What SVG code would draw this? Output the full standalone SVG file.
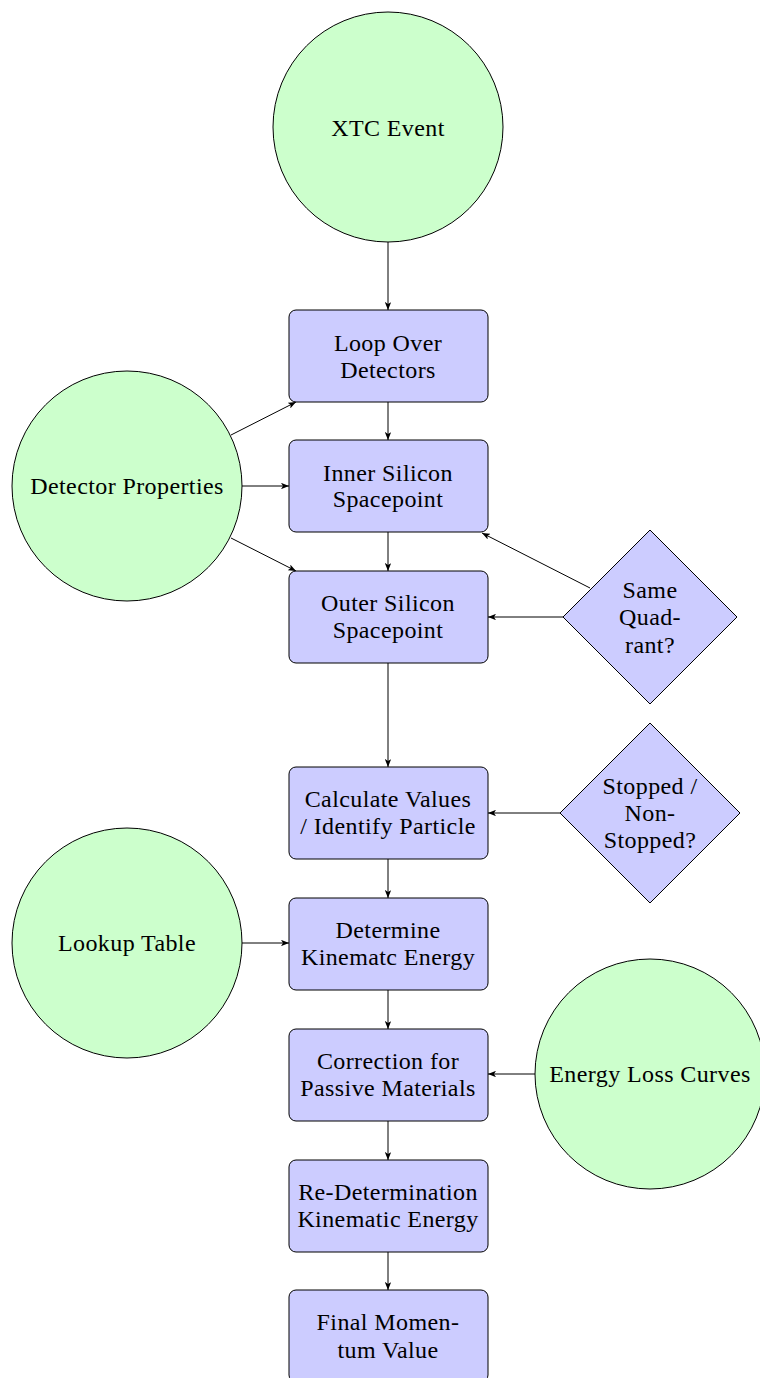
<svg xmlns="http://www.w3.org/2000/svg" width="760" height="1378" viewBox="0 0 760 1378">
<defs>
<style>
.c{fill:#ccffcc;stroke:#000;stroke-width:1}
.b{fill:#ccccff;stroke:#000;stroke-width:1}
.e{stroke:#000;stroke-width:1;fill:none;marker-end:url(#a)}
</style>
<marker id="a" viewBox="0 0 10 8" refX="10" refY="4" markerWidth="8" markerHeight="6.4" markerUnits="userSpaceOnUse" orient="auto">
<path d="M0,0 L10,4 L0,8 L2.5,4 Z" fill="#000"/>
</marker>
</defs>
<rect width="760" height="1378" fill="#fff"/>
<g id="connectors">
<line class="e" x1="388" y1="242" x2="388" y2="310"/>
<line class="e" x1="388" y1="402" x2="388" y2="440"/>
<line class="e" x1="388" y1="532" x2="388" y2="571"/>
<line class="e" x1="388" y1="663" x2="388" y2="767"/>
<line class="e" x1="388" y1="859" x2="388" y2="898"/>
<line class="e" x1="388" y1="990" x2="388" y2="1029"/>
<line class="e" x1="388" y1="1121" x2="388" y2="1160"/>
<line class="e" x1="388" y1="1252" x2="388" y2="1290"/>
<line class="e" x1="231" y1="435" x2="296" y2="402"/>
<line class="e" x1="242" y1="486" x2="289" y2="486"/>
<line class="e" x1="231" y1="538" x2="296" y2="571"/>
<line class="e" x1="590" y1="588" x2="482" y2="533"/>
<line class="e" x1="563" y1="617" x2="488" y2="617"/>
<line class="e" x1="560" y1="813" x2="488" y2="813"/>
<line class="e" x1="242" y1="943" x2="289" y2="943"/>
<line class="e" x1="535" y1="1074" x2="488" y2="1074"/>
</g>
<g font-family="Liberation Serif, Times New Roman, serif" font-size="24" letter-spacing="0.4" fill="#000" text-anchor="middle">
<g id="xtc"><circle class="c" cx="388" cy="127" r="115"/><text x="388" y="136">XTC Event</text></g>
<g id="loop"><rect class="b" x="289" y="310" width="199" height="92" rx="7"/><text x="388" y="351">Loop Over</text><text x="388" y="378">Detectors</text></g>
<g id="inner"><rect class="b" x="289" y="440" width="199" height="92" rx="7"/><text x="388" y="481">Inner Silicon</text><text x="388" y="507">Spacepoint</text></g>
<g id="outer"><rect class="b" x="289" y="571" width="199" height="92" rx="7"/><text x="388" y="611">Outer Silicon</text><text x="388" y="638">Spacepoint</text></g>
<g id="calc"><rect class="b" x="289" y="767" width="199" height="92" rx="7"/><text x="388" y="807">Calculate Values</text><text x="388" y="834">/ Identify Particle</text></g>
<g id="determine"><rect class="b" x="289" y="898" width="199" height="92" rx="7"/><text x="388" y="938">Determine</text><text x="388" y="965">Kinematc Energy</text></g>
<g id="correction"><rect class="b" x="289" y="1029" width="199" height="92" rx="7"/><text x="388" y="1069">Correction for</text><text x="388" y="1096">Passive Materials</text></g>
<g id="redetermination"><rect class="b" x="289" y="1160" width="199" height="92" rx="7"/><text x="388" y="1200">Re-Determination</text><text x="388" y="1227">Kinematic Energy</text></g>
<g id="final"><rect class="b" x="289" y="1290" width="199" height="92" rx="7"/><text x="388" y="1330">Final Momen-</text><text x="388" y="1358">tum Value</text></g>
<g id="detprops"><circle class="c" cx="127" cy="486" r="115"/><text x="127" y="494">Detector Properties</text></g>
<g id="lookup"><circle class="c" cx="127" cy="943" r="115"/><text x="127" y="951">Lookup Table</text></g>
<g id="eloss"><circle class="c" cx="650" cy="1074" r="115"/><text x="650" y="1082">Energy Loss Curves</text></g>
<g id="samequad"><polygon class="b" points="650,530 737,617 650,704 563,617"/><text x="650" y="598">Same</text><text x="650" y="625">Quad-</text><text x="650" y="653">rant?</text></g>
<g id="stopped"><polygon class="b" points="650,723 740,813 650,903 560,813"/><text x="650" y="794">Stopped /</text><text x="650" y="821">Non-</text><text x="650" y="848">Stopped?</text></g>
</g>
</svg>
